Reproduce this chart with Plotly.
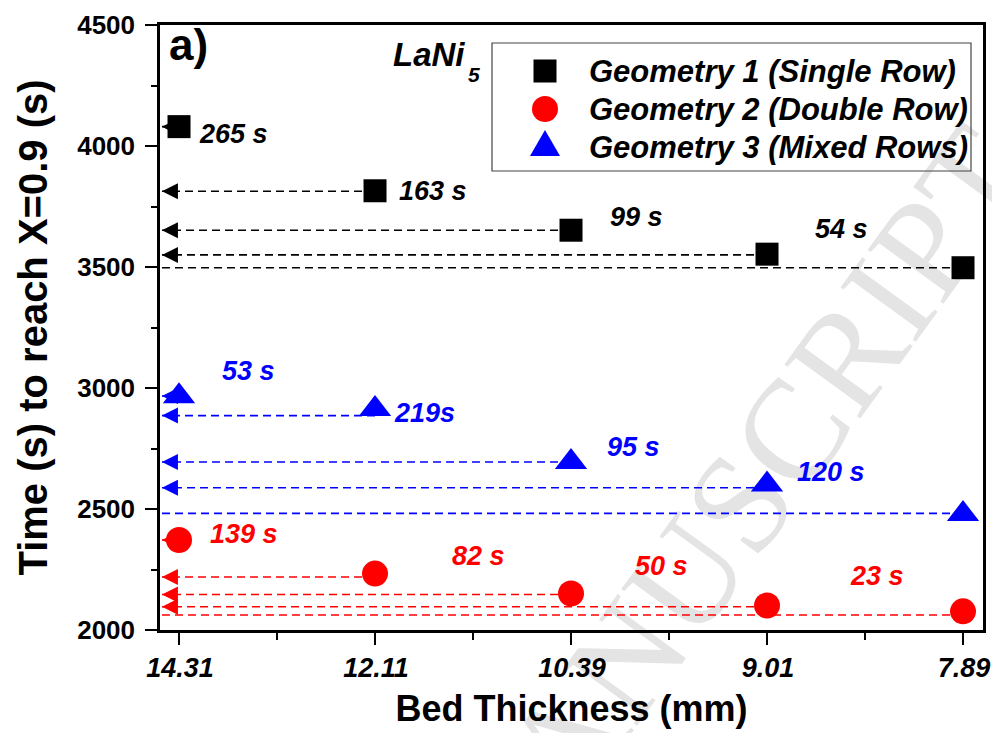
import plotly.graph_objects as go

# ---------------- data ----------------
thickness_labels = ["14.31", "12.11", "10.39", "9.01", "7.89"]
series_names = ["Geometry 1 (Single Row)", "Geometry 2 (Double Row)", "Geometry 3 (Mixed Rows)"]
geom1_time = [4080, 3815, 3652, 3553, 3497]
geom2_time = [2372, 2233, 2151, 2101, 2077]
geom3_time = [2966, 2913, 2694, 2601, 2479]
# levels of the dashed guide lines drawn towards the y axis
geom1_guide = [4080, 3813, 3652, 3550, 3497]
geom2_guide = [2372, 2219, 2147, 2096, 2062]
geom3_guide = [2967, 2886, 2694, 2588, 2482]
# time-difference notes
geom1_notes = ["265 s", "163 s", "99 s", "54 s"]
geom2_notes = ["139 s", "82 s", "50 s", "23 s"]
geom3_notes = ["53 s", "219s", "95 s", "120 s"]
y_ticks = [2000, 2500, 3000, 3500, 4000, 4500]

# ---------------- layout constants ----------------
W, H = 992, 733
L, R, T, B = 160, 983, 25, 630
FONT = "Liberation Sans, Arial, sans-serif"
X_RANGE = [-0.097, 4.102]
Y_RANGE = [2000, 4500]
TIP_X = -0.087      # arrow tip (data units, just right of y axis)
END_X = -0.095
NBSP = "\u00a0"
# note anchor positions (data units)
geom1_note_pos = [(0.276, 4050), (1.296, 3814), (2.332, 3707), (3.378, 3657)]
geom2_note_pos = [(0.332, 2397), (1.526, 2306), (2.464, 2264), (3.561, 2223)]
geom3_note_pos = [(0.357, 3070), (1.25, 2897), (2.321, 2756), (3.327, 2653)]

BLACK, RED, BLUE = "#000000", "#ff0000", "#0000ff"
series = [
    (series_names[0], geom1_time, geom1_guide, geom1_notes, geom1_note_pos, BLACK, "square", 23),
    (series_names[1], geom2_time, geom2_guide, geom2_notes, geom2_note_pos, RED, "circle", 26),
    (series_names[2], geom3_time, geom3_guide, geom3_notes, geom3_note_pos, BLUE, "triangle-up", 28),
]

def px(x, y):
    return (x - L) / (R - L), (B - y) / (B - T)

fig = go.Figure()
xs = list(range(len(thickness_labels)))

# dashed guide lines + arrow heads
for name, vals, guide, notes, npos, col, sym, size in series:
    n = len(guide)
    for i in range(n):
        end = TIP_X if i < n - 1 else END_X
        fig.add_trace(go.Scatter(x=[xs[i], end], y=[guide[i], guide[i]], mode="lines",
                                 line=dict(color=col, width=1.6, dash="8px,5px"),
                                 showlegend=False, hoverinfo="skip"))
    fig.add_trace(go.Scatter(x=[TIP_X] * (n - 1), y=guide[:-1], mode="markers",
                             marker=dict(symbol="arrow-left", size=16, color=col, line=dict(width=0)),
                             showlegend=False, hoverinfo="skip"))

# data markers
for name, vals, guide, notes, npos, col, sym, size in series:
    fig.add_trace(go.Scatter(x=xs, y=vals, mode="markers", name=name,
                             marker=dict(symbol=sym, size=size, color=col, line=dict(width=0)),
                             showlegend=False))

annotations = []
for name, vals, guide, notes, npos, col, sym, size in series:
    for txt, (ax_, ay_) in zip(notes, npos):
        annotations.append(dict(x=ax_, y=ay_, xref="x", yref="y", text=txt, showarrow=False,
                                xanchor="center", yanchor="middle",
                                font=dict(family=FONT, size=27, color=col, weight="bold", style="italic")))

# panel label and material label
ax_, ay_ = px(167, 44)
annotations.append(dict(x=ax_, y=ay_, xref="paper", yref="paper", text="a)", showarrow=False,
                        xanchor="left", yanchor="middle",
                        font=dict(family=FONT, size=44, color=BLACK, weight="bold")))
ax_, ay_ = px(391, 55)
annotations.append(dict(x=ax_, y=ay_, xref="paper", yref="paper", text="LaNi", showarrow=False,
                        xanchor="left", yanchor="middle",
                        font=dict(family=FONT, size=33, color=BLACK, weight="bold", style="italic")))
ax_, ay_ = px(466, 74)
annotations.append(dict(x=ax_, y=ay_, xref="paper", yref="paper", text="5", showarrow=False,
                        xanchor="left", yanchor="middle",
                        font=dict(family=FONT, size=21, color=BLACK, weight="bold", style="italic")))

# manual legend
shapes = []
x0, y0 = px(492, 43)
x1, y1 = px(971, 171)
shapes.append(dict(type="rect", xref="paper", yref="paper", x0=x0, y0=y0, x1=x1, y1=y1,
                   line=dict(color="#444444", width=1.2), fillcolor="rgba(0,0,0,0)"))
rows_y = [71, 109, 147]
a, b = px(533.5, 59.5); c, d = px(556.5, 82.5)
shapes.append(dict(type="rect", xref="paper", yref="paper", x0=a, y0=b, x1=c, y1=d,
                   line=dict(width=0), fillcolor=BLACK))
a, b = px(532, 96); c, d = px(558, 122)
shapes.append(dict(type="circle", xref="paper", yref="paper", x0=a, y0=b, x1=c, y1=d,
                   line=dict(width=0), fillcolor=RED))
p1 = px(530, 156); p2 = px(560, 156); p3 = px(545, 130)
shapes.append(dict(type="path", xref="paper", yref="paper",
                   path=f"M {p1[0]},{p1[1]} L {p2[0]},{p2[1]} L {p3[0]},{p3[1]} Z",
                   line=dict(width=0), fillcolor=BLUE))
for nm, ry in zip(series_names, rows_y):
    ax_, ay_ = px(587, ry)
    annotations.append(dict(x=ax_, y=ay_, xref="paper", yref="paper", text=nm, showarrow=False,
                            xanchor="left", yanchor="middle",
                            font=dict(family=FONT, size=31, color=BLACK, weight="bold", style="italic")))

# faint watermark beneath the data
wa = px(463, 858); wb = px(521, 778)
shapes.append(dict(type="line", xref="paper", yref="paper", x0=wa[0], y0=wa[1], x1=wb[0], y1=wb[1],
                   line=dict(width=0, color="rgba(0,0,0,0)"), layer="below",
                   label=dict(text="ACCEPTED MANUSCRIPT", textangle=-54, textposition="middle",
                              xanchor="center", yanchor="middle",
                              font=dict(family="Liberation Serif, serif", size=142, color="#e4e4e4"))))

fig.update_layout(
    width=W, height=H,
    margin=dict(l=L, r=W - R, t=T, b=H - B, autoexpand=False),
    paper_bgcolor="white", plot_bgcolor="rgba(0,0,0,0)",
    showlegend=False,
    annotations=annotations, shapes=shapes,
    xaxis=dict(range=X_RANGE, tickvals=xs, ticktext=thickness_labels, automargin=False,
               ticks="outside", ticklen=12, tickwidth=2, tickcolor=BLACK,
               minor=dict(tickvals=[0.5, 1.5, 2.5, 3.5], ticks="outside", ticklen=7, tickwidth=2, tickcolor=BLACK),
               showline=True, linewidth=2.5, linecolor=BLACK, mirror=True,
               showgrid=False, zeroline=False, ticklabelshift=1,
               ticklabeloverflow="allow",
               tickfont=dict(family=FONT, size=27, color=BLACK, weight="bold", style="italic"),
               title=dict(text="Bed Thickness (mm)" + NBSP * 4, standoff=14,
                          font=dict(family=FONT, size=36, color=BLACK, weight="bold"))),
    yaxis=dict(range=Y_RANGE, tickvals=y_ticks, automargin=False,
               ticks="outside", ticklen=12, tickwidth=2, tickcolor=BLACK,
               minor=dict(dtick=250, ticks="outside", ticklen=6, tickwidth=2, tickcolor=BLACK),
               showline=True, linewidth=2.5, linecolor=BLACK, mirror=True,
               showgrid=False, zeroline=False, ticklabelstandoff=5,
               tickfont=dict(family=FONT, size=26, color=BLACK, weight="bold"),
               title=dict(text="Time (s) to reach X=0.9 (s)" + NBSP * 3, standoff=18,
                          font=dict(family=FONT, size=40, color=BLACK, weight="bold"))),
    xaxis2=dict(overlaying="x", side="top", anchor="y", range=X_RANGE, automargin=False,
                tickvals=[0, 0.5, 1, 1.5, 2, 2.5, 3, 3.5, 4], ticks="inside", ticklen=4, tickwidth=1,
                tickcolor="#333333", showticklabels=False, showgrid=False, zeroline=False, showline=False),
    yaxis2=dict(overlaying="y", side="right", anchor="x", range=Y_RANGE, dtick=250, automargin=False,
                ticks="outside", ticklen=3, tickwidth=1, tickcolor="#333333",
                showticklabels=False, showgrid=False, zeroline=False, showline=False),
)

fig.write_html("out.html")
